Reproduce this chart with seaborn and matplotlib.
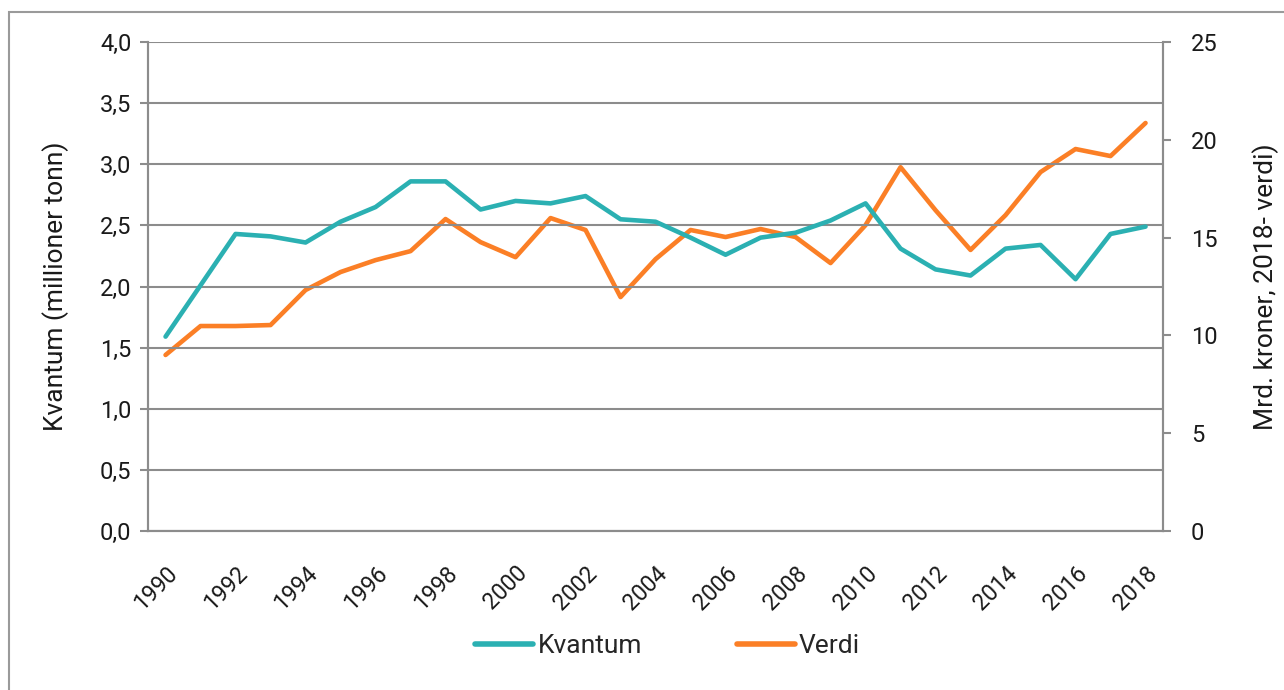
import numpy as np
import pandas as pd
import matplotlib
matplotlib.use("Agg")
import matplotlib.pyplot as plt
import seaborn as sns
from matplotlib.lines import Line2D
from matplotlib.patches import Rectangle

# ─── Data ─────────────────────────────────────────────────────────────────────
years = list(range(1990, 2019))
kvantum = [1.59, 2.01, 2.43, 2.41, 2.36, 2.53, 2.65, 2.86, 2.86, 2.63,
           2.70, 2.68, 2.74, 2.55, 2.53, 2.40, 2.26, 2.40, 2.44, 2.54,
           2.68, 2.31, 2.14, 2.09, 2.31, 2.34, 2.06, 2.43, 2.49]
verdi = [9.0, 10.48, 10.48, 10.53, 12.32, 13.24, 13.85, 14.31, 15.95, 14.77,
         14.0, 16.0, 15.39, 11.96, 13.9, 15.39, 15.03, 15.44, 15.03, 13.7,
         15.64, 18.6, 16.4, 14.37, 16.15, 18.35, 19.53, 19.17, 20.86]

left_ticks = [0.0, 0.5, 1.0, 1.5, 2.0, 2.5, 3.0, 3.5, 4.0]
right_ticks = [0, 5, 10, 15, 20, 25]

TEAL = "#2bb0b2"
ORANGE = "#fb7f26"
GRID = "#8c8c8c"
TXT = "#1a1a1a"

df = pd.DataFrame({"idx": np.arange(len(years)), "year": years,
                   "kvantum": kvantum, "verdi": verdi})

sns.set_style("white")
plt.rcParams["font.family"] = ["Roboto", "DejaVu Sans"]
plt.rcParams["font.size"] = 17

fig = plt.figure(figsize=(12.84, 6.90), dpi=100)
ax = fig.add_axes([0.1153, 0.2304, 0.7905, 0.7087])
ax2 = ax.twinx()

sns.lineplot(data=df, x="idx", y="kvantum", ax=ax, color=TEAL, linewidth=3.3,
             legend=False)
sns.lineplot(data=df, x="idx", y="verdi", ax=ax2, color=ORANGE, linewidth=3.3,
             legend=False)
ax.set_zorder(ax2.get_zorder() + 1)
ax.patch.set_visible(False)

# ── axes limits / ticks ──
ax.set_xlim(-0.5, len(years) - 0.5)
ax.set_ylim(0, 4.0)
ax2.set_ylim(0, 25)

ax.set_yticks(left_ticks)
ax.set_yticklabels([f"{v:.1f}".replace(".", ",") for v in left_ticks])
ax2.set_yticks(right_ticks)
ax2.set_yticklabels([str(v) for v in right_ticks])

label_pos = df["idx"][::2].tolist()
ax.set_xticks(label_pos)
ax.set_xticklabels([str(y) for y in df["year"][::2]], rotation=45,
                   ha="right", va="top", rotation_mode="anchor")
ax.set_xticks(np.arange(-0.5, len(years), 1.0), minor=True)
ax.tick_params(axis="x", which="major", length=0, pad=22, labelsize=16.5,
               labelcolor=TXT)
ax.tick_params(axis="x", which="minor", length=6, width=1.5, color=GRID,
               direction="out")
ax.tick_params(axis="y", length=6, width=1.5, color=GRID, pad=6,
               labelsize=17, labelcolor=TXT)
ax2.tick_params(axis="y", length=6, width=1.5, color=GRID, pad=14,
                labelsize=17, labelcolor=TXT)

ax.grid(axis="y", color=GRID, linewidth=1.5)
ax.grid(axis="x", visible=False)
ax2.grid(False)

for a in (ax, ax2):
    a.spines["top"].set_visible(False)
    for side in ("left", "right", "bottom"):
        a.spines[side].set_color(GRID)
        a.spines[side].set_linewidth(1.5)

ax.set_xlabel("")
ax.set_ylabel("Kvantum (millioner tonn)", fontsize=19, color=TXT, labelpad=22)
ax2.set_ylabel("Mrd. kroner, 2018- verdi)", fontsize=19, color=TXT,
               labelpad=25)

# ── legend ──
handles = [Line2D([0], [0], color=TEAL, linewidth=4),
           Line2D([0], [0], color=ORANGE, linewidth=4)]
fig.legend(handles, ["Kvantum", "Verdi"], loc="center",
           bbox_to_anchor=(0.52, 0.064), ncol=2, frameon=False,
           fontsize=19, handlelength=2.2, handletextpad=0.15,
           columnspacing=3.6)

# outer frame
fig.patches.append(Rectangle((0.007, -0.05), 1.2, 1.033,
                             transform=fig.transFigure, fill=False,
                             edgecolor="#9a9a9a", linewidth=1.5))

fig.savefig("out.png", dpi=100)
plt.close(fig)
